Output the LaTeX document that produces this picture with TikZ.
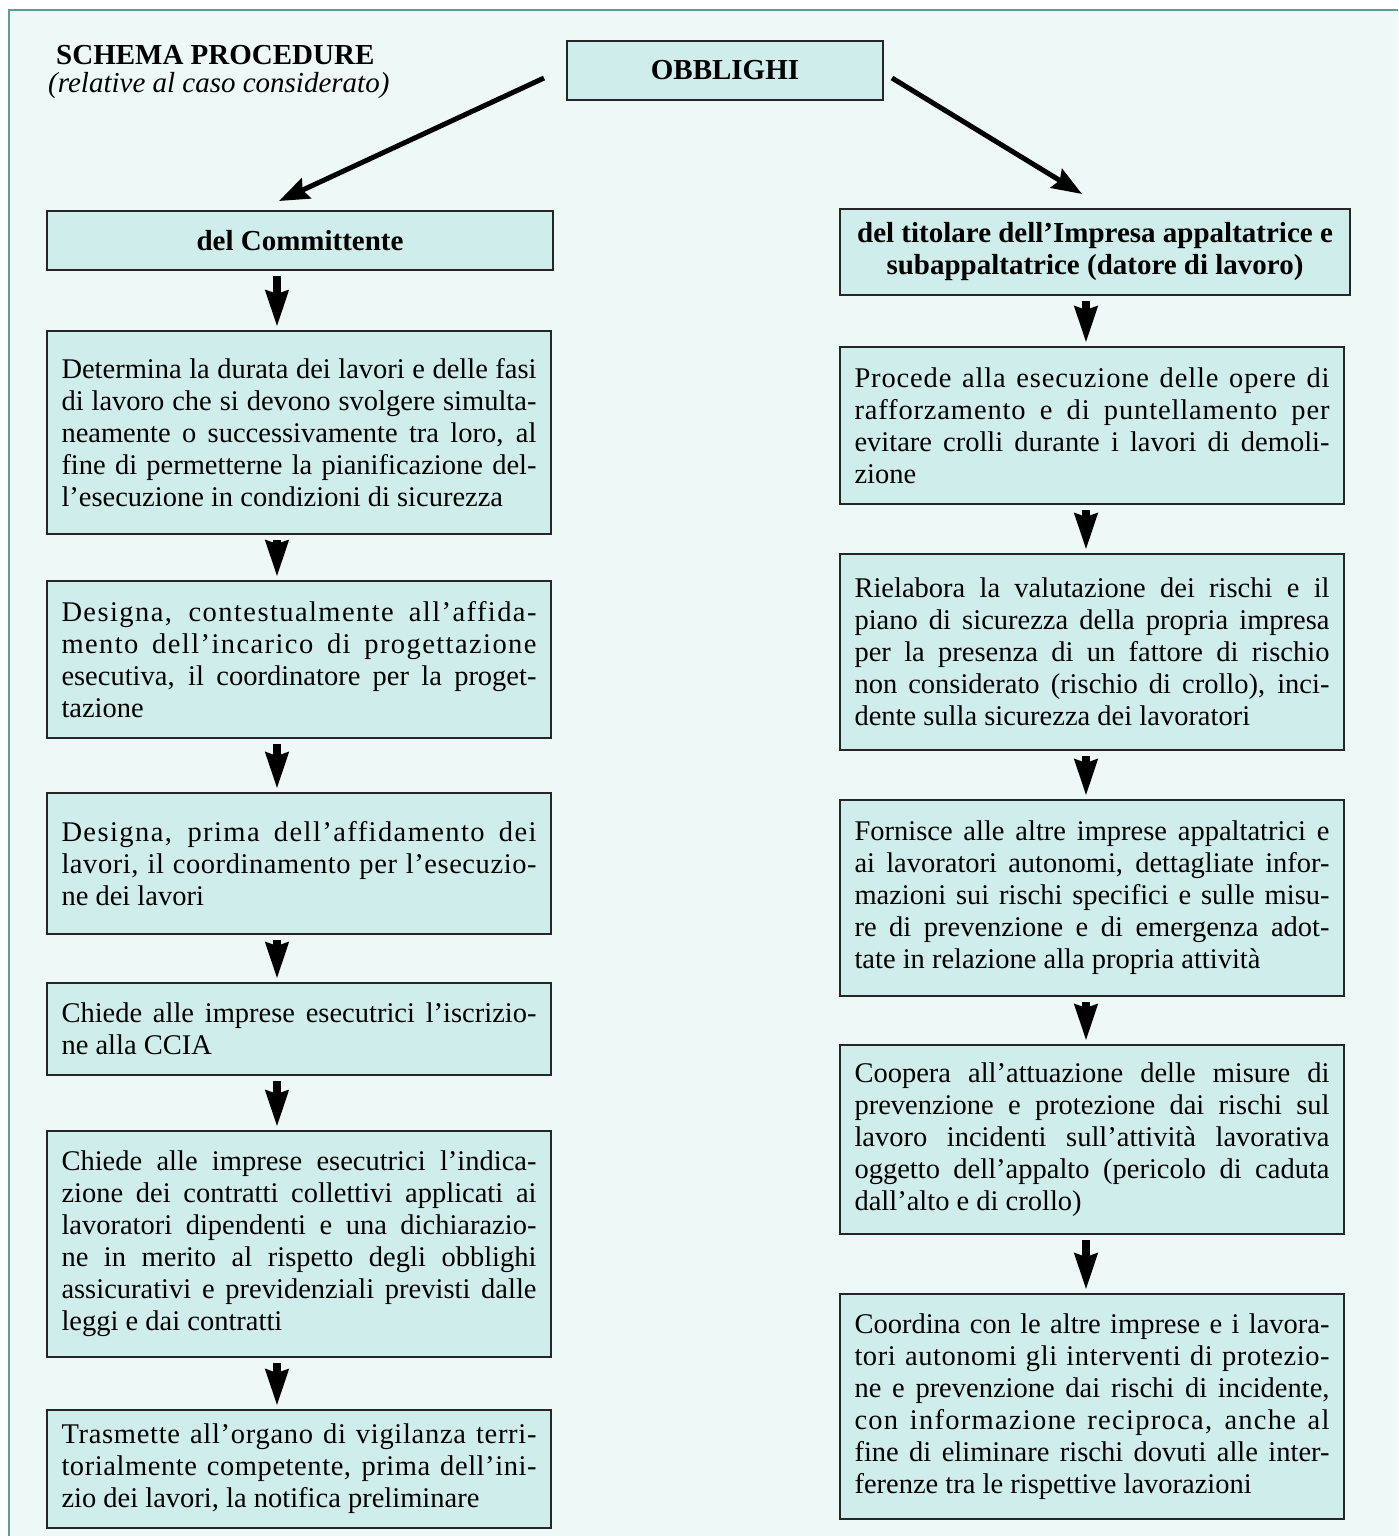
\documentclass[tikz,border=0pt]{standalone}
\usepackage{fontspec}
\setmainfont{Liberation Serif}
\usepackage{xcolor}
\usepackage{tikz}
\usetikzlibrary{arrows.meta, positioning}

\definecolor{panelfill}{HTML}{EEF8F6}
\definecolor{panelline}{HTML}{5F9B97}
\definecolor{boxfill}{HTML}{CFEDEB}
\hyphenpenalty=10000
\newcommand{\tracked}[2]{{\addfontfeature{LetterSpace=#1}#2}}

\begin{document}
\begin{tikzpicture}[
    x=1pt, y=-1pt,
    node distance=50pt,
    head/.style={rectangle, draw=black!85, line width=1.5pt, fill=boxfill, outer sep=0pt, inner sep=0pt, align=center, font=\fontsize{29}{32}\selectfont\bfseries},
    task/.style={rectangle, draw=black!85, line width=1.5pt, fill=boxfill, outer sep=0pt, inner xsep=14.5pt, inner ysep=0pt, text width=475pt, align=justify, font=\fontsize{28.5}{32}\selectfont},
    titletext/.style={anchor=base west, inner sep=0pt, font=\fontsize{29}{34}\selectfont},
    bigarrow/.style={-{Stealth[length=30pt, width=22pt, inset=4pt]}, line width=5pt},
    steparrow/.style={-{Stealth[length=36pt, width=22pt, inset=3pt]}, line width=8pt, shorten <=6pt, shorten >=4pt},
]
    \useasboundingbox (0,0) rectangle (1398,1536);
    \clip (0,0) rectangle (1398,1536);

    % Panel
    \draw[panelline, line width=2pt, fill=panelfill] (9,10) rectangle (1420,1560);

    % Title
    \node[titletext, font=\fontsize{29}{34}\selectfont\bfseries] (title) at (56,65) {SCHEMA PROCEDURE};
    \node[titletext, font=\fontsize{29}{34}\selectfont\itshape] (subtitle) at (48,93) {(relative al caso considerato)};

    % Top box
    \node[head, minimum width=316pt, minimum height=59pt] (obb) at (725,70.5) {OBBLIGHI};

    % Left column
    \node[head, minimum width=506pt, minimum height=59pt] (comm) at (300,240.5) {del Committente};
    \node[task, minimum height=203pt, below=61pt of comm, xshift=-1pt] (det) {
        Determina la durata dei lavori e delle fasi\linebreak
        di lavoro che si devono svolgere simulta-\linebreak
        neamente o successivamente tra loro, al\linebreak
        fine di permetterne la pianificazione del-\linebreak
        l'esecuzione in condizioni di sicurezza
    };
    \node[task, minimum height=157pt, below=47pt of det] (desprog) {
        \tracked{5}{Designa, contestualmente all'affida-}\linebreak
        \tracked{5}{mento dell'incarico di progettazione}\linebreak
        esecutiva, il coordinatore per la proget-\linebreak
        tazione
    };
    \node[task, minimum height=141pt, below=55pt of desprog] (desesec) {
        \tracked{5}{Designa, prima dell'affidamento dei}\linebreak
        \tracked{2}{lavori, il coordinamento per l'esecuzio-}\linebreak
        ne dei lavori
    };
    \node[task, minimum height=92pt, below=49pt of desesec] (cciaa) {
        Chiede alle imprese esecutrici l'iscrizio-\linebreak
        ne alla CCIA
    };
    \node[task, minimum height=226pt, below=56pt of cciaa] (contr) {
        Chiede alle imprese esecutrici l'indica-\linebreak
        zione dei contratti collettivi applicati ai\linebreak
        lavoratori dipendenti e una dichiarazio-\linebreak
        ne in merito al rispetto degli obblighi\linebreak
        assicurativi e previdenziali previsti dalle\linebreak
        leggi e dai contratti
    };
    \node[task, minimum height=118pt, below=53pt of contr] (notif) {
        \tracked{2.5}{Trasmette all'organo di vigilanza terri-}\linebreak
        \tracked{2}{torialmente competente, prima dell'ini-}\linebreak
        zio dei lavori, la notifica preliminare
    };

    % Right column
    \node[head, minimum width=510pt, minimum height=86pt] (tit) at (1095,252) {del titolare dell'Impresa appaltatrice e\\subappaltatrice (datore di lavoro)};
    \node[task, minimum height=157pt, below=52pt of tit, xshift=-3pt] (proc) {
        \tracked{3}{Procede alla esecuzione delle opere di}\linebreak
        \tracked{3}{rafforzamento e di puntellamento per}\linebreak
        evitare crolli durante i lavori di demoli-\linebreak
        zione
    };
    \node[task, minimum height=196pt, below=50pt of proc] (riel) {
        Rielabora la valutazione dei rischi e il\linebreak
        piano di sicurezza della propria impresa\linebreak
        per la presenza di un fattore di rischio\linebreak
        non considerato (rischio di crollo), inci-\linebreak
        dente sulla sicurezza dei lavoratori
    };
    \node[task, minimum height=196pt, below=50pt of riel] (forn) {
        Fornisce alle altre imprese appaltatrici e\linebreak
        ai lavoratori autonomi, dettagliate infor-\linebreak
        mazioni sui rischi specifici e sulle misu-\linebreak
        re di prevenzione e di emergenza adot-\linebreak
        tate in relazione alla propria attività
    };
    \node[task, minimum height=189pt, below=49pt of forn] (coop) {
        Coopera all'attuazione delle misure di\linebreak
        prevenzione e protezione dai rischi sul\linebreak
        lavoro incidenti sull'attività lavorativa\linebreak
        oggetto dell'appalto (pericolo di caduta\linebreak
        dall'alto e di crollo)
    };
    \node[task, minimum height=225pt, below=60pt of coop] (coord) {
        Coordina con le altre imprese e i lavora-\linebreak
        \tracked{2}{tori autonomi gli interventi di protezio-}\linebreak
        ne e prevenzione dai rischi di incidente,\linebreak
        \tracked{4.5}{con informazione reciproca, anche al}\linebreak
        fine di eliminare rischi dovuti alle inter-\linebreak
        ferenze tra le rispettive lavorazioni
    };

    % Arrows from the top box
    \draw[bigarrow] ([shift={(-23,7.5)}]obb.west) -- ([shift={(-21,-10)}]comm.north);
    \draw[bigarrow] ([shift={(9,7.5)}]obb.east) -- ([shift={(-13,-15)}]tit.north);

    % Left column arrows
    \draw[steparrow] ([xshift=-23pt]comm.south) -- ([xshift=-22pt]det.north);
    \draw[steparrow] ([xshift=-22pt]det.south) -- ([xshift=-22pt]desprog.north);
    \draw[steparrow] ([xshift=-22pt]desprog.south) -- ([xshift=-22pt]desesec.north);
    \draw[steparrow] ([xshift=-22pt]desesec.south) -- ([xshift=-22pt]cciaa.north);
    \draw[steparrow] ([xshift=-22pt]cciaa.south) -- ([xshift=-22pt]contr.north);
    \draw[steparrow] ([xshift=-22pt]contr.south) -- ([xshift=-22pt]notif.north);

    % Right column arrows
    \draw[steparrow] ([xshift=-9pt]tit.south) -- ([xshift=-6pt]proc.north);
    \draw[steparrow] ([xshift=-6pt]proc.south) -- ([xshift=-6pt]riel.north);
    \draw[steparrow] ([xshift=-6pt]riel.south) -- ([xshift=-6pt]forn.north);
    \draw[steparrow] ([xshift=-6pt]forn.south) -- ([xshift=-6pt]coop.north);
    \draw[steparrow] ([xshift=-6pt]coop.south) -- ([xshift=-6pt]coord.north);

\end{tikzpicture}
\end{document}
